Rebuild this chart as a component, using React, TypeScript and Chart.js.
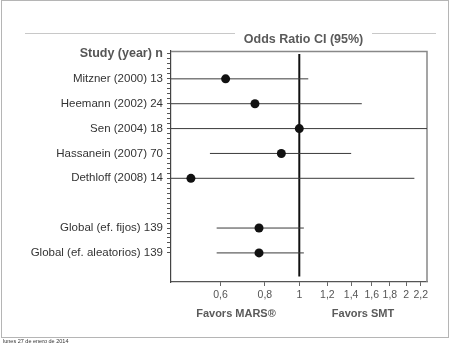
import React, { useEffect, useRef } from "react";
import { Chart, registerables } from "chart.js";

Chart.register(...registerables);

const headerLabel = "Study (year) n";
const studies = [
  "Mitzner (2000) 13",
  "Heemann (2002) 24",
  "Sen (2004) 18",
  "Hassanein (2007) 70",
  "Dethloff (2008) 14",
  "Global (ef. fijos) 139",
  "Global (ef. aleatorios) 139",
];
const rowPositions = [1, 2, 3, 4, 5, 7, 8];
const oddsRatio = [0.62, 0.75, 1.0, 0.89, 0.495, 0.77, 0.77];
const ciLower = [0.3, 0.35, 0.25, 0.56, 0.12, 0.585, 0.585];
const ciUpper = [1.06, 1.5, 4.0, 1.4, 2.11, 1.03, 1.03];
const xTicks = [0.6, 0.8, 1, 1.2, 1.4, 1.6, 1.8, 2, 2.2];
const chartTitle = "Odds Ratio CI (95%)";
const leftFavor = "Favors MARS®";
const rightFavor = "Favors SMT";
const dateText = "lunes 27 de enero de 2014";

const FONT = "'Liberation Sans', Arial, sans-serif";

const isHeader = (c: any) => !!c && !!c.tick && Math.abs(c.tick.value) < 1e-6;

export default function App() {
  const ref = useRef<HTMLCanvasElement | null>(null);

  useEffect(() => {
    document.body.style.margin = "0";
    const canvas = ref.current;
    if (!canvas) return;

    const labelMap: Record<number, string> = { 0: headerLabel };
    rowPositions.forEach((r, i) => (labelMap[r] = studies[i]));

    const decor = {
      id: "decor",
      beforeDatasetsDraw(chart: any) {
        const { ctx, chartArea } = chart;
        ctx.save();
        ctx.strokeStyle = "#888";
        ctx.lineWidth = 1.5;
        ctx.beginPath();
        ctx.moveTo(chartArea.left, chartArea.top + 0.5);
        ctx.lineTo(chartArea.right, chartArea.top + 0.5);
        ctx.lineTo(chartArea.right, chartArea.bottom);
        ctx.stroke();
        ctx.restore();
      },
      afterDraw(chart: any) {
        const { ctx } = chart;
        ctx.save();
        ctx.strokeStyle = "#b5b5b5";
        ctx.lineWidth = 1;
        ctx.strokeRect(1.5, 0.5, 447, 337);
        ctx.strokeStyle = "#c8c8c8";
        ctx.beginPath();
        ctx.moveTo(25, 33.5);
        ctx.lineTo(235, 33.5);
        ctx.moveTo(372, 33.5);
        ctx.lineTo(436, 33.5);
        ctx.stroke();
        ctx.fillStyle = "#5a5a5a";
        ctx.font = `bold 12.5px ${FONT}`;
        ctx.textAlign = "center";
        ctx.textBaseline = "middle";
        ctx.fillText(chartTitle, 303.5, 39.5);
        ctx.font = `bold 11px ${FONT}`;
        ctx.fillText(leftFavor, 236, 313.5);
        ctx.fillText(rightFavor, 363, 314);
        ctx.fillStyle = "#333";
        ctx.font = `5.5px ${FONT}`;
        ctx.textAlign = "left";
        ctx.textBaseline = "alphabetic";
        ctx.fillText(dateText, 3, 343);
        ctx.restore();
      },
    };

    const ciDatasets = studies.map((s, i) => ({
      label: s,
      data: [
        { x: ciLower[i], y: rowPositions[i] },
        { x: ciUpper[i], y: rowPositions[i] },
      ],
      showLine: true,
      borderColor: "#3a3a3a",
      borderWidth: 1,
      pointRadius: 0,
      order: 1,
    }));

    const chart = new Chart(canvas, {
      type: "scatter",
      data: {
        datasets: [
          {
            label: "OR",
            data: oddsRatio.map((v, i) => ({ x: v, y: rowPositions[i] })),
            pointRadius: 4.5,
            pointBackgroundColor: "#111",
            pointBorderWidth: 0,
            order: 0,
          },
          ...ciDatasets,
          {
            label: "ref",
            data: [
              { x: 1, y: 0 },
              { x: 1, y: 8.95 },
            ],
            showLine: true,
            borderColor: "#111",
            borderWidth: 2,
            pointRadius: 0,
            order: 2,
          },
        ] as any,
      },
      options: {
        animation: false,
        responsive: false,
        devicePixelRatio: 1,
        layout: { padding: { top: 51, right: 23, left: 0, bottom: 0 } },
        plugins: {
          legend: { display: false },
          tooltip: { enabled: false },
          title: { display: false },
        },
        scales: {
          x: {
            type: "logarithmic",
            min: 0.435,
            max: 2.29,
            afterBuildTicks: (scale: any) => {
              scale.ticks = xTicks.map((v) => ({ value: v }));
            },
            afterFit: (scale: any) => {
              scale.height = 64;
            },
            ticks: {
              autoSkip: false,
              maxRotation: 0,
              padding: 3,
              color: "#555",
              font: { family: FONT, size: 10.5 },
              callback: (v: any) => String(v).replace(".", ","),
            },
            grid: {
              drawOnChartArea: false,
              drawTicks: true,
              tickLength: 4,
              tickColor: "#666",
            },
            border: { display: true, color: "#555", width: 1.2 },
          },
          y: {
            type: "linear",
            reverse: true,
            min: -0.12,
            max: 9.17,
            afterBuildTicks: (scale: any) => {
              const t = [];
              for (let i = 0; i <= 40; i++) t.push({ value: i / 5 });
              scale.ticks = t;
            },
            afterFit: (scale: any) => {
              scale.width = 171;
            },
            ticks: {
              autoSkip: false,
              padding: 4,
              color: (c: any) => (isHeader(c) ? "#555" : "#333"),
              font: (c: any) =>
                isHeader(c)
                  ? { family: FONT, size: 12.5, weight: "bold" }
                  : { family: FONT, size: 11.5 },
              callback: (v: any) => {
                const r = Math.round(v);
                if (Math.abs(v - r) < 1e-6 && labelMap[r] !== undefined) return labelMap[r];
                return "";
              },
            },
            grid: {
              drawOnChartArea: false,
              drawTicks: true,
              tickLength: 4,
              tickColor: "#555",
            },
            border: { display: true, color: "#444", width: 1.2 },
          },
        },
      } as any,
      plugins: [decor],
    });

    return () => chart.destroy();
  }, []);

  return (
    <div style={{ width: 450, height: 346, background: "#fff" }}>
      <canvas ref={ref} width={450} height={346} style={{ display: "block" }} />
    </div>
  );
}
